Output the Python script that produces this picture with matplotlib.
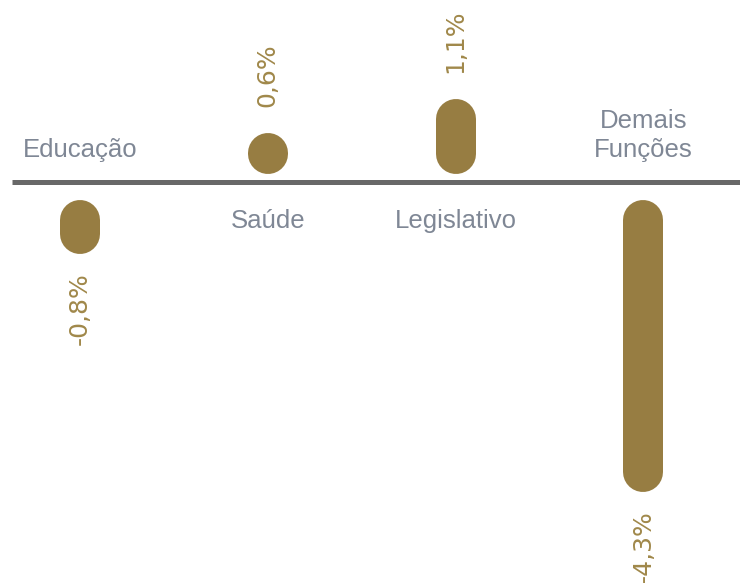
import matplotlib
matplotlib.use("Agg")
import matplotlib.pyplot as plt

# ---- data ----
categories = ["Educação", "Saúde", "Legislativo", "Demais\nFunções"]
values = [-0.8, 0.6, 1.1, -4.3]
value_labels = ["-0,8%", "0,6%", "1,1%", "-4,3%"]

# ---- style ----
BAR_COLOR = "#977D42"
VALUE_COLOR = "#A0884A"
CAT_COLOR = "#7F8795"
LINE_COLOR = "#686868"

W, H, DPI = 740, 583, 100
PX_PER_CAT = 187.8     # pixels between category centres
PX_PER_PCT = 68.0      # pixels per percentage point
BASE_PX = 182.0        # baseline position from top (px)
FIRST_PX = 80.0        # first category centre (px)
PT = 72.0 / DPI        # points per pixel

fig = plt.figure(figsize=(W / DPI, H / DPI), dpi=DPI)
ax = fig.add_axes([0, 0, 1, 1])
ax.set_axis_off()
ax.set_xlim(-FIRST_PX / PX_PER_CAT, (W - FIRST_PX) / PX_PER_CAT)
ax.set_ylim(-(H - BASE_PX) / PX_PER_PCT, BASE_PX / PX_PER_PCT)

px_x = 1.0 / PX_PER_CAT
px_y = 1.0 / PX_PER_PCT

bar_w_px = 40.0
cap = bar_w_px / 2 * px_y      # round cap radius in y units
gap_pos = 8.5 * px_y
gap_neg = 18.0 * px_y

# baseline
ax.plot([ax.get_xlim()[0] + 12 * px_x, ax.get_xlim()[1]], [0, 0],
        color=LINE_COLOR, lw=3.6, solid_capstyle="butt", zorder=1)

cat_font = dict(color=CAT_COLOR, fontsize=18.5, family=["Liberation Sans", "DejaVu Sans"],
                linespacing=1.25, ha="center", va="baseline")
val_font = dict(color=VALUE_COLOR, fontsize=18, family="DejaVu Sans",
                rotation=90, ha="center")

for i, (cat, v, lab) in enumerate(zip(categories, values, value_labels)):
    h = abs(v)
    if v >= 0:
        y0, y1 = gap_pos, gap_pos + h
    else:
        y0, y1 = -gap_neg - h, -gap_neg
    # rounded bar: thick line with round caps, total length == h
    ax.plot([i, i], [y0 + cap, y1 - cap], color=BAR_COLOR, lw=bar_w_px * PT,
            solid_capstyle="round", zorder=2)

    if v >= 0:
        ax.annotate(lab, (i, y1), xytext=(0, 26 * PT), textcoords="offset points",
                    va="bottom", **val_font)
        ax.annotate(cat, (i, 0), xytext=(0, -46 * PT), textcoords="offset points",
                    **cat_font)
    else:
        ax.annotate(lab, (i, y0), xytext=(0, -18 * PT), textcoords="offset points",
                    va="top", **val_font)
        ax.annotate(cat, (i, 0), xytext=(0, 25 * PT), textcoords="offset points",
                    **cat_font)

fig.savefig("out.png", dpi=DPI)
